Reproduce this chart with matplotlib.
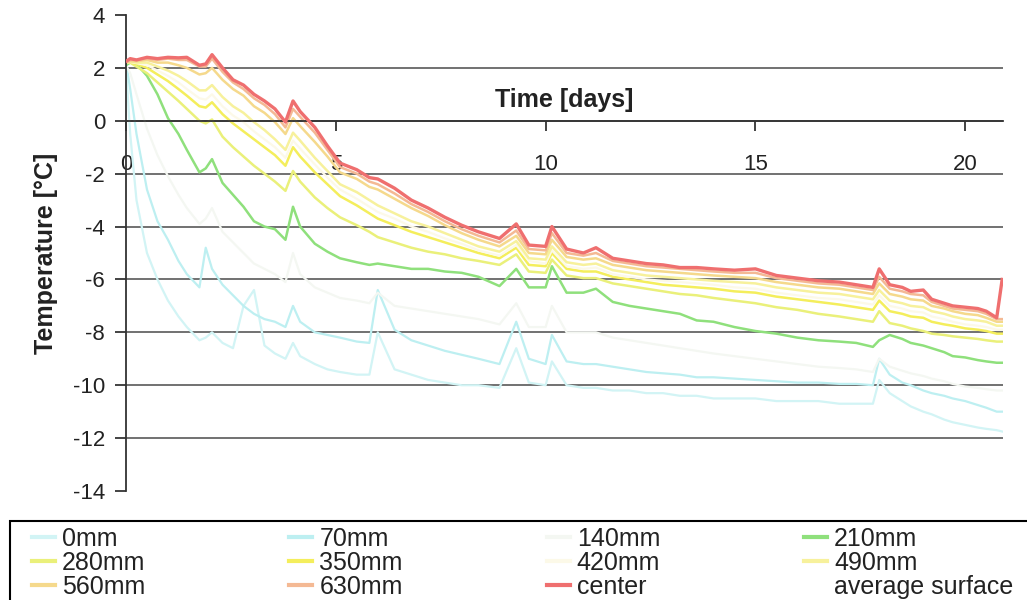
import numpy as np
import matplotlib
matplotlib.use('Agg')
import matplotlib.pyplot as plt
from matplotlib.lines import Line2D
from matplotlib.patches import Rectangle

plt.rcParams['font.family'] = ['Liberation Sans', 'DejaVu Sans']
plt.rcParams['axes.unicode_minus'] = False

# time axis (days) shared by all sensors
days = [0.0, 0.1, 0.25, 0.5, 0.75, 1.0, 1.25, 1.45, 1.75, 1.9,
        2.05, 2.3, 2.55, 2.8, 3.05, 3.3, 3.55, 3.8, 3.98, 4.15,
        4.5, 4.8, 5.1, 5.5, 5.8, 6.0, 6.4, 6.8, 7.2, 7.6,
        8.0, 8.4, 8.9, 9.3, 9.6, 10.0, 10.15, 10.5, 10.9, 11.2,
        11.6, 12.0, 12.4, 12.8, 13.2, 13.6, 14.0, 14.5, 15.0, 15.5,
        16.0, 16.5, 17.0, 17.4, 17.8, 17.95, 18.2, 18.5, 18.7, 19.0,
        19.2, 19.5, 19.7, 20.0, 20.3, 20.5, 20.75, 20.88]

t_0mm = [2.0, -0.5, -3.0, -5.0, -6.0, -6.8, -7.4, -7.8, -8.3, -8.2,
         -8.0, -8.4, -8.6, -7.0, -6.4, -8.5, -8.8, -9.0, -8.4, -8.9,
         -9.2, -9.4, -9.5, -9.6, -9.6, -8.0, -9.4, -9.6, -9.8, -9.9,
         -10.0, -10.0, -10.1, -8.6, -9.9, -10.0, -9.1, -10.0, -10.1, -10.1,
         -10.2, -10.2, -10.3, -10.3, -10.4, -10.4, -10.5, -10.5, -10.5, -10.6,
         -10.6, -10.6, -10.7, -10.7, -10.7, -9.8, -10.3, -10.6, -10.8, -11.0,
         -11.1, -11.3, -11.4, -11.5, -11.6, -11.65, -11.7, -11.75]
t_70mm = [2.2, 1.2, -0.5, -2.6, -3.8, -4.5, -5.3, -5.8, -6.3, -4.8,
          -5.6, -6.2, -6.6, -7.0, -7.3, -7.5, -7.6, -7.8, -7.0, -7.6,
          -8.0, -8.1, -8.2, -8.35, -8.4, -6.4, -7.9, -8.3, -8.5, -8.7,
          -8.85, -9.0, -9.2, -7.6, -9.0, -9.2, -8.1, -9.1, -9.2, -9.2,
          -9.3, -9.4, -9.5, -9.55, -9.6, -9.7, -9.7, -9.75, -9.8, -9.85,
          -9.9, -9.9, -9.95, -9.95, -10.0, -9.0, -9.6, -9.9, -10.0, -10.2,
          -10.3, -10.4, -10.5, -10.6, -10.75, -10.85, -11.0, -11.0]
t_140mm = [2.1, 1.8, 1.0, -0.3, -1.3, -2.1, -2.8, -3.3, -3.9, -3.7,
           -3.3, -4.2, -4.6, -5.0, -5.4, -5.6, -5.8, -6.1, -5.0, -5.8,
           -6.3, -6.5, -6.7, -6.8, -6.9, -6.5, -7.0, -7.1, -7.2, -7.3,
           -7.4, -7.5, -7.7, -6.9, -7.8, -7.8, -7.0, -8.0, -8.0, -8.0,
           -8.2, -8.3, -8.4, -8.5, -8.6, -8.7, -8.8, -8.9, -9.0, -9.1,
           -9.2, -9.3, -9.35, -9.4, -9.5, -9.0, -9.3, -9.45, -9.55, -9.65,
           -9.75, -9.85, -9.95, -10.05, -10.1, -10.15, -10.2, -10.2]
t_210mm = [2.1, 2.2, 2.15, 1.7, 1.0, 0.1, -0.5, -1.1, -1.95, -1.8,
           -1.45, -2.35, -2.8, -3.25, -3.8, -4.0, -4.1, -4.5, -3.25, -4.0,
           -4.65, -4.95, -5.2, -5.35, -5.45, -5.4, -5.5, -5.6, -5.6, -5.7,
           -5.75, -5.9, -6.25, -5.6, -6.3, -6.3, -5.5, -6.5, -6.5, -6.35,
           -6.85, -7.0, -7.1, -7.2, -7.3, -7.55, -7.6, -7.8, -7.95, -8.05,
           -8.2, -8.3, -8.35, -8.4, -8.55, -8.3, -8.1, -8.25, -8.4, -8.5,
           -8.6, -8.75, -8.9, -8.95, -9.05, -9.1, -9.15, -9.15]
t_280mm = [2.2, 2.2, 2.05, 1.8, 1.45, 1.1, 0.75, 0.45, 0.0, -0.1,
           0.05, -0.6, -1.0, -1.35, -1.7, -2.0, -2.3, -2.65, -1.9, -2.3,
           -2.9, -3.3, -3.65, -3.95, -4.2, -4.4, -4.6, -4.8, -4.95, -5.05,
           -5.2, -5.3, -5.45, -5.05, -5.7, -5.75, -5.25, -5.85, -5.95, -5.95,
           -6.15, -6.25, -6.35, -6.45, -6.55, -6.6, -6.7, -6.8, -6.9, -7.05,
           -7.15, -7.3, -7.4, -7.5, -7.6, -7.2, -7.65, -7.75, -7.85, -7.95,
           -8.05, -8.1, -8.15, -8.2, -8.25, -8.3, -8.35, -8.35]
t_350mm = [2.2, 2.2, 2.15, 2.0, 1.75, 1.5, 1.2, 0.95, 0.55, 0.5,
           0.7, 0.25, -0.1, -0.4, -0.7, -1.0, -1.3, -1.7, -1.0, -1.35,
           -1.95, -2.4, -2.85, -3.2, -3.5, -3.7, -3.95, -4.2, -4.4, -4.6,
           -4.8, -5.0, -5.2, -4.8, -5.45, -5.5, -5.0, -5.6, -5.7, -5.7,
           -5.9, -6.0, -6.1, -6.2, -6.25, -6.3, -6.35, -6.45, -6.5, -6.65,
           -6.75, -6.85, -6.95, -7.05, -7.15, -6.8, -7.2, -7.3, -7.4, -7.45,
           -7.6, -7.7, -7.75, -7.85, -7.9, -7.95, -8.05, -8.05]
t_420mm = [2.2, 2.22, 2.18, 2.1, 1.9, 1.7, 1.45, 1.2, 0.85, 0.8,
           1.0, 0.55, 0.2, -0.05, -0.4, -0.7, -1.0, -1.4, -0.75, -1.05,
           -1.65, -2.15, -2.6, -2.95, -3.25, -3.45, -3.7, -4.0, -4.2, -4.45,
           -4.65, -4.9, -5.1, -4.7, -5.3, -5.4, -4.9, -5.5, -5.6, -5.55,
           -5.8, -5.9, -6.0, -6.05, -6.1, -6.15, -6.2, -6.3, -6.35, -6.5,
           -6.6, -6.7, -6.75, -6.85, -6.95, -6.6, -7.0, -7.1, -7.2, -7.25,
           -7.4, -7.5, -7.6, -7.7, -7.75, -7.8, -7.9, -7.9]
t_490mm = [2.2, 2.25, 2.2, 2.2, 2.05, 1.9, 1.7, 1.5, 1.15, 1.15,
           1.35, 0.9, 0.55, 0.3, -0.05, -0.35, -0.7, -1.1, -0.45, -0.75,
           -1.4, -1.9, -2.4, -2.7, -3.0, -3.2, -3.5, -3.8, -4.0, -4.25,
           -4.5, -4.75, -4.95, -4.55, -5.2, -5.25, -4.75, -5.35, -5.45, -5.4,
           -5.65, -5.75, -5.85, -5.9, -5.95, -6.0, -6.05, -6.1, -6.15, -6.3,
           -6.4, -6.5, -6.55, -6.65, -6.75, -6.4, -6.8, -6.9, -7.0, -7.05,
           -7.2, -7.3, -7.4, -7.5, -7.55, -7.6, -7.75, -7.75]
t_560mm = [2.2, 2.25, 2.25, 2.3, 2.2, 2.2, 2.1, 2.0, 1.75, 1.8,
           2.0, 1.55, 1.2, 0.95, 0.55, 0.3, -0.05, -0.5, 0.1, -0.2,
           -0.8, -1.35, -1.95, -2.2, -2.5, -2.6, -2.95, -3.3, -3.6, -3.95,
           -4.25, -4.5, -4.75, -4.35, -5.0, -5.05, -4.5, -5.15, -5.25, -5.2,
           -5.45, -5.55, -5.65, -5.7, -5.75, -5.8, -5.85, -5.9, -5.95, -6.1,
           -6.2, -6.3, -6.35, -6.45, -6.55, -6.15, -6.55, -6.65, -6.75, -6.8,
           -7.0, -7.1, -7.2, -7.3, -7.35, -7.45, -7.6, -7.6]
t_630mm = [2.2, 2.3, 2.3, 2.35, 2.3, 2.35, 2.3, 2.3, 2.05, 2.05,
           2.35, 1.85, 1.45, 1.2, 0.85, 0.6, 0.25, -0.25, 0.45, 0.15,
           -0.45, -1.1, -1.75, -2.0, -2.3, -2.4, -2.75, -3.15, -3.45, -3.8,
           -4.1, -4.35, -4.6, -4.15, -4.85, -4.9, -4.25, -5.0, -5.1, -5.0,
           -5.3, -5.4, -5.5, -5.55, -5.6, -5.65, -5.7, -5.75, -5.75, -5.95,
           -6.05, -6.15, -6.2, -6.3, -6.4, -5.9, -6.35, -6.45, -6.55, -6.6,
           -6.85, -7.0, -7.1, -7.15, -7.2, -7.3, -7.5, -7.5]
t_center = [2.25, 2.35, 2.3, 2.4, 2.35, 2.4, 2.38, 2.4, 2.1, 2.15,
            2.5, 2.0, 1.55, 1.35, 1.0, 0.75, 0.45, -0.05, 0.75, 0.35,
            -0.25, -0.95, -1.6, -1.85, -2.15, -2.2, -2.55, -3.0, -3.3, -3.65,
            -3.95, -4.2, -4.45, -3.9, -4.7, -4.75, -4.0, -4.85, -5.0, -4.8,
            -5.2, -5.3, -5.4, -5.45, -5.55, -5.55, -5.6, -5.65, -5.6, -5.85,
            -5.95, -6.05, -6.1, -6.2, -6.3, -5.6, -6.2, -6.3, -6.45, -6.4,
            -6.75, -6.9, -7.0, -7.05, -7.1, -7.2, -7.45, -6.0]

labels = ['0mm', '70mm', '140mm', '210mm', '280mm', '350mm', '420mm',
          '490mm', '560mm', '630mm', 'center']
series = [t_0mm, t_70mm, t_140mm, t_210mm, t_280mm, t_350mm, t_420mm,
          t_490mm, t_560mm, t_630mm, t_center]
colors = ['#d2f4f5', '#bdeff1', '#f4f7f2', '#8fe07c', '#eaf07a', '#f4ee5c',
          '#fcf9e8', '#f7f19c', '#f5d98c', '#f4b994', '#ef6f6f']
widths = [1.6, 1.6, 1.6, 1.8, 1.8, 1.8, 1.6, 1.8, 1.8, 1.8, 2.4]

fig = plt.figure(figsize=(10.27, 6.0), dpi=100)
ax = fig.add_axes([126 / 1027, 1 - 491 / 600, 877 / 1027, 476 / 600])

for yv in [2, 0, -2, -4, -6, -8, -10, -12]:
    ax.axhline(yv, color='#4a4a4a', lw=1.1, zorder=1)

handles = {}
for lab, vals, c, w in zip(labels, series, colors, widths):
    ln, = ax.plot(days, vals, color=c, lw=w, zorder=2 + (lab == 'center'))
    handles[lab] = ln
handles['average surface'] = Line2D([], [], color='white', lw=3)

ax.set_xlim(0, 20.9)
ax.set_ylim(-14, 4)
ax.set_yticks(range(-14, 5, 2))
ax.set_xticks([0, 5, 10, 15, 20])
ax.spines['top'].set_visible(False)
ax.spines['right'].set_visible(False)
ax.spines['bottom'].set_position(('data', 0))
for s in ['left', 'bottom']:
    ax.spines[s].set_color('#333333')
    ax.spines[s].set_linewidth(1.3)
ax.tick_params(axis='y', direction='out', length=8, width=1.2, pad=7,
               labelsize=16, colors='#222222')
ax.tick_params(axis='x', direction='out', length=7, width=1.2, pad=17,
               labelsize=16, colors='#222222')

ax.set_ylabel('Temperature [°C]', fontsize=18, fontweight='bold', color='#222222')
ax.yaxis.set_label_coords(-0.077, 0.5)
ax.set_xlabel('Time [days]', fontsize=18, fontweight='bold', color='#222222')
ax.xaxis.label.set_va('center')
ax.xaxis.set_label_coords(0.5, 0.821)

# legend frame runs off the bottom/right of the picture
fig.add_artist(Rectangle((10 / 1027, -0.05), 1.1, 0.05 + 1 - 521 / 600,
                         transform=fig.transFigure, fill=False,
                         edgecolor='black', lw=1.5, clip_on=False))

# legend is filled column by column -> reorder to match row layout
order = ['0mm', '280mm', '560mm', '70mm', '350mm', '630mm',
         '140mm', '420mm', 'center', '210mm', '490mm', 'average surface']
leg = fig.legend([handles[k] for k in order], order, loc='upper left',
                 bbox_to_anchor=(32 / 1027, 1 - 527 / 600),
                 ncol=4, fontsize=18, frameon=False,
                 handlelength=0.92, handletextpad=0.28, labelspacing=0.0,
                 columnspacing=5.76, borderpad=0, borderaxespad=0)
for txt in leg.get_texts():
    txt.set_color('#222222')
for lh in leg.get_lines():
    lh.set_linewidth(3)

fig.savefig('out.png', dpi=100)
